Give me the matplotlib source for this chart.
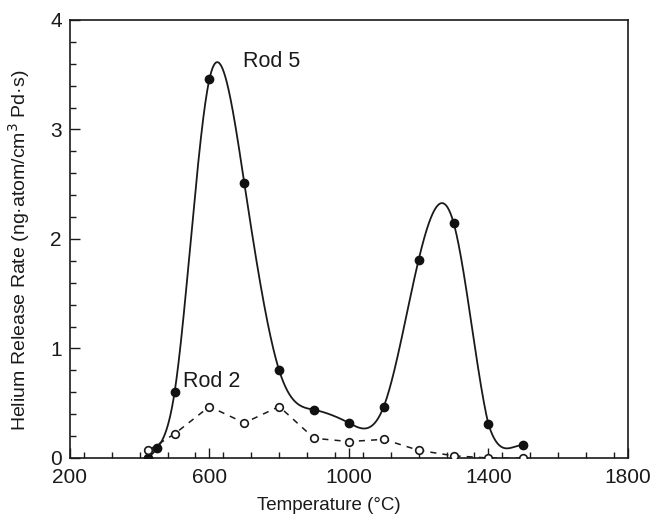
import numpy as np
import matplotlib
matplotlib.use("Agg")
import matplotlib.pyplot as plt
from matplotlib.ticker import MultipleLocator

# ---- data ----
rod5_temp = [425, 450, 500, 600, 700, 800, 900, 1000, 1100, 1200, 1300, 1400, 1500]
rod5_rate = [0.0, 0.09, 0.60, 3.46, 2.51, 0.80, 0.44, 0.32, 0.47, 1.81, 2.15, 0.31, 0.12]

rod2_temp = [425, 500, 600, 700, 800, 900, 1000, 1100, 1200, 1300, 1400, 1500]
rod2_rate = [0.07, 0.22, 0.47, 0.32, 0.47, 0.18, 0.15, 0.17, 0.07, 0.02, 0.0, 0.0]

x_ticks = [200, 600, 1000, 1400, 1800]
y_ticks = [0, 1, 2, 3, 4]


def smooth_curve(x, y, n=800):
    """Natural cubic spline through the points; the last segment uses a
    Hermite piece with gentle tangents (as the hand-drawn curve flattens)."""
    x = np.asarray(x, float)
    y = np.asarray(y, float)
    m = len(x)
    h = np.diff(x)
    A = np.zeros((m, m))
    b = np.zeros(m)
    A[0, 0] = A[-1, -1] = 1.0
    for i in range(1, m - 1):
        A[i, i - 1] = h[i - 1]
        A[i, i] = 2 * (h[i - 1] + h[i])
        A[i, i + 1] = h[i]
        b[i] = 6 * ((y[i + 1] - y[i]) / h[i] - (y[i] - y[i - 1]) / h[i - 1])
    M = np.linalg.solve(A, b)
    xs = np.linspace(x[0], x[-1], n)
    idx = np.clip(np.searchsorted(x, xs) - 1, 0, m - 2)
    x0, x1 = x[idx], x[idx + 1]
    hh = x1 - x0
    t0 = x1 - xs
    t1 = xs - x0
    ys = (M[idx] * t0 ** 3 / (6 * hh) + M[idx + 1] * t1 ** 3 / (6 * hh)
          + (y[idx] / hh - M[idx] * hh / 6) * t0
          + (y[idx + 1] / hh - M[idx + 1] * hh / 6) * t1)
    # last segment: Hermite with Catmull-Rom style tangents
    last = idx == m - 2
    t = (xs[last] - x[-2]) / h[-1]
    m0 = (y[-1] - y[-3]) / (x[-1] - x[-3]) * h[-1]
    m1 = 0.0
    h00 = 2 * t ** 3 - 3 * t ** 2 + 1
    h10 = t ** 3 - 2 * t ** 2 + t
    h01 = -2 * t ** 3 + 3 * t ** 2
    h11 = t ** 3 - t ** 2
    ys[last] = h00 * y[-2] + h10 * m0 + h01 * y[-1] + h11 * m1
    return xs, ys


plt.rcParams['font.family'] = ['Liberation Sans', 'DejaVu Sans']
ink = '#1a1a1a'

fig = plt.figure(figsize=(6.54, 5.24), dpi=100)
ax = fig.add_axes([0.107, 0.126, 0.853, 0.836])

xs, ys = smooth_curve(rod5_temp, rod5_rate)
ax.plot(xs, ys, color=ink, lw=1.3, zorder=2)
ax.plot(rod5_temp, rod5_rate, 'o', color='#111111', ms=6, zorder=3)

ax.plot(rod2_temp, rod2_rate, color=ink, lw=1.1, ls=(0, (4, 4)), zorder=2)
ax.plot(rod2_temp, rod2_rate, 'o', mfc='white', mec=ink, mew=1.2, ms=5.5, zorder=3)

ax.text(696, 3.62, 'Rod 5', fontsize=15.5, va='center', ha='left', color=ink)
ax.text(524, 0.70, 'Rod 2', fontsize=15.5, va='center', ha='left', color=ink)

ax.set_xlim(200, 1800)
ax.set_ylim(0, 4)
ax.set_xticks(x_ticks)
ax.set_yticks(y_ticks)
ax.xaxis.set_minor_locator(MultipleLocator(80))
ax.yaxis.set_minor_locator(MultipleLocator(0.2))
ax.tick_params(which='both', direction='in', top=False, right=False,
               labelsize=15, colors=ink)
ax.tick_params(which='major', length=7, width=1.0)
ax.tick_params(which='minor', length=4, width=1.0)
ax.tick_params(axis='x', which='major', pad=7)
ax.tick_params(axis='y', which='major', pad=6)
for s in ax.spines.values():
    s.set_linewidth(1.2)
    s.set_color(ink)

ax.set_xlabel('Temperature (°C)', fontsize=13.5, color=ink)
ax.xaxis.set_label_coords(0.464, -0.09)
ax.set_ylabel('Helium Release Rate (ng·atom/cm$^3$ Pd·s)', fontsize=14, color=ink)
ax.yaxis.set_label_coords(-0.068, 0.475)

fig.savefig('out.png', dpi=100)
